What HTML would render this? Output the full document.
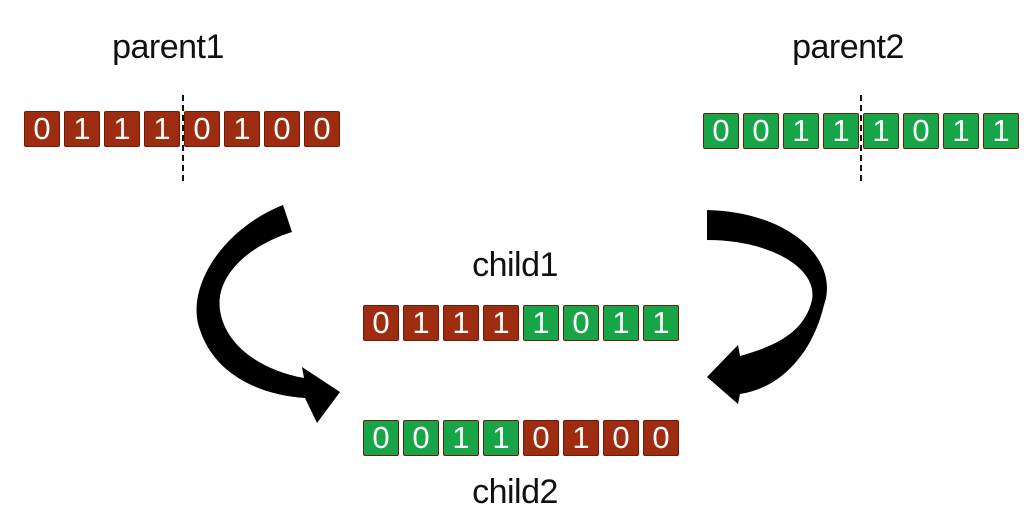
<!DOCTYPE html>
<html><head><meta charset="utf-8"><style>
body{margin:0;width:1035px;height:512px;background:#fff;position:relative;overflow:hidden;font-family:"Liberation Sans",sans-serif}
.lbl{position:absolute;font-size:34px;color:#111;transform:translateX(-50%);white-space:nowrap;letter-spacing:-0.5px}
.row{position:absolute;display:flex;gap:4px}
.b{width:34px;height:34px;border:1px solid #6e1c0a;border-radius:2px;color:#fff;font-size:31px;line-height:34px;text-align:center;box-sizing:content-box}
.r{background:#9e2c10}
.g{background:#17a548;border-color:#6e1c0a}
.dash{position:absolute;width:0;border-left:2px dashed #111;height:86px;top:95px}
</style></head><body>
<div class="lbl" style="left:168px;top:28px">parent1</div>
<div class="lbl" style="left:848px;top:28px">parent2</div>
<div class="lbl" style="left:515px;top:246px">child1</div>
<div class="lbl" style="left:515px;top:473px">child2</div>

<div class="row" style="left:24px;top:111px">
<div class="b r">0</div><div class="b r">1</div><div class="b r">1</div><div class="b r">1</div><div class="b r">0</div><div class="b r">1</div><div class="b r">0</div><div class="b r">0</div></div>
<div class="row" style="left:703px;top:113px">
<div class="b g">0</div><div class="b g">0</div><div class="b g">1</div><div class="b g">1</div><div class="b g">1</div><div class="b g">0</div><div class="b g">1</div><div class="b g">1</div></div>
<div class="row" style="left:363px;top:305px">
<div class="b r">0</div><div class="b r">1</div><div class="b r">1</div><div class="b r">1</div><div class="b g">1</div><div class="b g">0</div><div class="b g">1</div><div class="b g">1</div></div>
<div class="row" style="left:363px;top:420px">
<div class="b g">0</div><div class="b g">0</div><div class="b g">1</div><div class="b g">1</div><div class="b r">0</div><div class="b r">1</div><div class="b r">0</div><div class="b r">0</div></div>

<div class="dash" style="left:182px"></div>
<div class="dash" style="left:860px"></div>

<svg width="1035" height="512" style="position:absolute;left:0;top:0">
<path fill="#000" d="M283,205 C220,230 185,290 200,330 C215,375 260,395 305,398 L317,423 L340,392 L302,367 L304,378 C260,370 225,345 220,310 C215,275 250,245 292,232 Z"/>
<path fill="#000" d="M707,210 C790,212 840,260 824,305 C812,355 780,388 740,394 L738,404 L707,377 L738,345 L740,356 C780,345 805,330 812,300 C818,268 770,240 707,240 Z"/>
</svg>
</body></html>
